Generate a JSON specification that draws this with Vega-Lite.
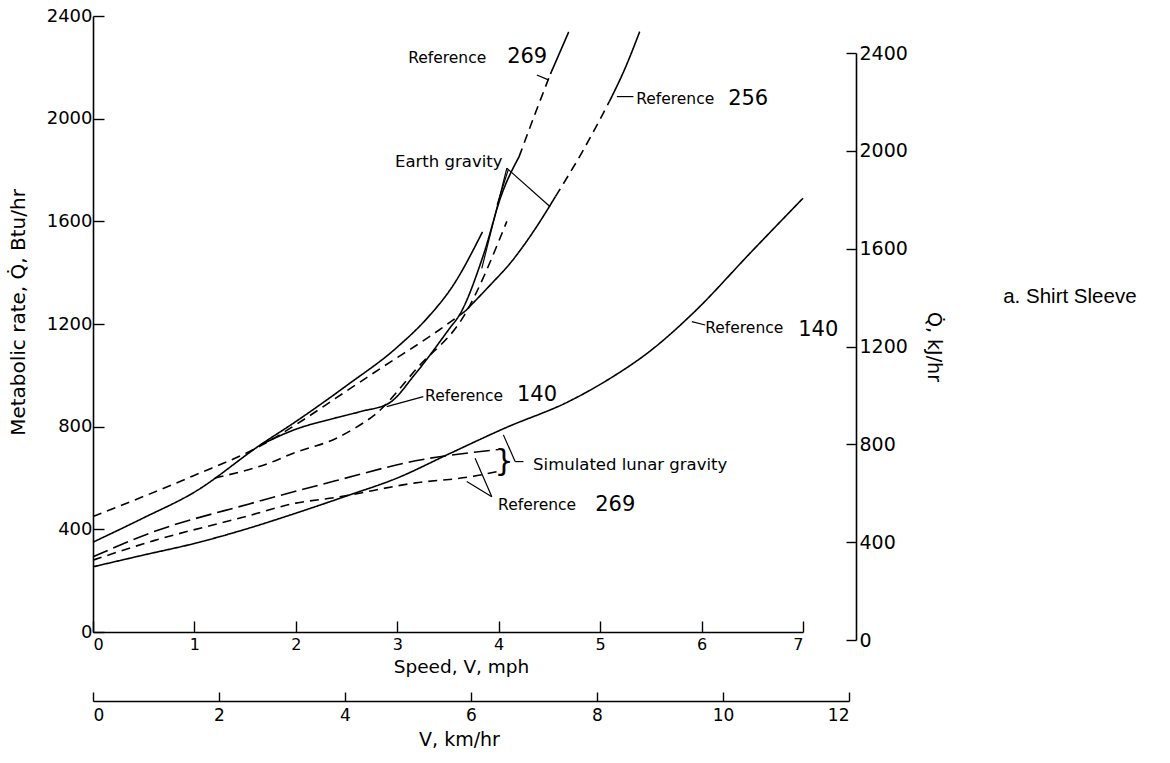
{
  "$schema": "https://vega.github.io/schema/vega-lite/v6.json",
  "width": 710,
  "height": 616,
  "autosize": "none",
  "padding": {"left": 93, "top": 16, "right": 367, "bottom": 131},
  "background": "white",
  "config": {
    "view": {"stroke": null},
    "font": "DejaVu Sans",
    "axis": {
      "grid": false,
      "domainColor": "black",
      "domainWidth": 1.6,
      "tickColor": "black",
      "tickWidth": 1.4,
      "labelColor": "black",
      "titleColor": "black",
      "titleFontWeight": "normal",
      "labelFont": "DejaVu Sans",
      "titleFont": "DejaVu Sans",
      "format": "d"
    }
  },
  "datasets": {
    "curves": [
      {"s": "r140lunar", "st": "solid", "mph": 0, "btu": 254},
      {"s": "r140lunar", "st": "solid", "mph": 0.5, "btu": 300},
      {"s": "r140lunar", "st": "solid", "mph": 1, "btu": 345},
      {"s": "r140lunar", "st": "solid", "mph": 1.5, "btu": 400},
      {"s": "r140lunar", "st": "solid", "mph": 2, "btu": 463},
      {"s": "r140lunar", "st": "solid", "mph": 2.5, "btu": 530},
      {"s": "r140lunar", "st": "solid", "mph": 3, "btu": 600},
      {"s": "r140lunar", "st": "solid", "mph": 3.51, "btu": 694},
      {"s": "r140lunar", "st": "solid", "mph": 4.07, "btu": 796},
      {"s": "r140lunar", "st": "solid", "mph": 4.69, "btu": 898},
      {"s": "r140lunar", "st": "solid", "mph": 5.09, "btu": 986},
      {"s": "r140lunar", "st": "solid", "mph": 5.51, "btu": 1100},
      {"s": "r140lunar", "st": "solid", "mph": 5.91, "btu": 1240},
      {"s": "r140lunar", "st": "solid", "mph": 6.5, "btu": 1485},
      {"s": "r140lunar", "st": "solid", "mph": 7.0, "btu": 1690},
      {"s": "r269lunarA", "st": "longdash", "mph": 0, "btu": 293},
      {"s": "r269lunarA", "st": "longdash", "mph": 0.58, "btu": 388},
      {"s": "r269lunarA", "st": "longdash", "mph": 1.54, "btu": 499},
      {"s": "r269lunarA", "st": "longdash", "mph": 2.39, "btu": 589},
      {"s": "r269lunarA", "st": "longdash", "mph": 3.18, "btu": 667},
      {"s": "r269lunarA", "st": "longdash", "mph": 4.0, "btu": 711},
      {"s": "r269lunarB", "st": "dash", "mph": 0, "btu": 280},
      {"s": "r269lunarB", "st": "dash", "mph": 0.6, "btu": 356},
      {"s": "r269lunarB", "st": "dash", "mph": 1.47, "btu": 446},
      {"s": "r269lunarB", "st": "dash", "mph": 2.0, "btu": 502},
      {"s": "r269lunarB", "st": "dash", "mph": 2.39, "btu": 524},
      {"s": "r269lunarB", "st": "dash", "mph": 3.18, "btu": 581},
      {"s": "r269lunarB", "st": "dash", "mph": 3.71, "btu": 604},
      {"s": "r269lunarB", "st": "dash", "mph": 4.02, "btu": 628},
      {"s": "r256earth_low", "st": "dash", "mph": 0, "btu": 450},
      {"s": "r256earth_low", "st": "dash", "mph": 0.98, "btu": 607},
      {"s": "r256earth_low", "st": "dash", "mph": 1.67, "btu": 729},
      {"s": "r256earth_low", "st": "dash", "mph": 2.06, "btu": 823},
      {"s": "r256earth_low", "st": "dash", "mph": 2.39, "btu": 910},
      {"s": "r256earth_low", "st": "dash", "mph": 2.85, "btu": 1031},
      {"s": "r256earth_low", "st": "dash", "mph": 3.37, "btu": 1165},
      {"s": "r256earth_low", "st": "dash", "mph": 3.67, "btu": 1250},
      {"s": "r256earth_mid", "st": "solid", "mph": 3.67, "btu": 1250},
      {"s": "r256earth_mid", "st": "solid", "mph": 3.9, "btu": 1345},
      {"s": "r256earth_mid", "st": "solid", "mph": 4.13, "btu": 1445},
      {"s": "r256earth_mid", "st": "solid", "mph": 4.35, "btu": 1565},
      {"s": "r256earth_mid", "st": "solid", "mph": 4.56, "btu": 1697},
      {"s": "r256earth_up", "st": "dash", "mph": 4.56, "btu": 1697},
      {"s": "r256earth_up", "st": "dash", "mph": 4.82, "btu": 1868},
      {"s": "r256earth_up", "st": "dash", "mph": 5.09, "btu": 2066},
      {"s": "r256earth_top", "st": "solid", "mph": 5.09, "btu": 2066},
      {"s": "r256earth_top", "st": "solid", "mph": 5.25, "btu": 2200},
      {"s": "r256earth_top", "st": "solid", "mph": 5.39, "btu": 2339},
      {"s": "upper_solid", "st": "solid", "mph": 0, "btu": 350},
      {"s": "upper_solid", "st": "solid", "mph": 0.5, "btu": 445},
      {"s": "upper_solid", "st": "solid", "mph": 1, "btu": 545},
      {"s": "upper_solid", "st": "solid", "mph": 1.65, "btu": 729},
      {"s": "upper_solid", "st": "solid", "mph": 2.0, "btu": 820},
      {"s": "upper_solid", "st": "solid", "mph": 2.5, "btu": 960},
      {"s": "upper_solid", "st": "solid", "mph": 3.0, "btu": 1110},
      {"s": "upper_solid", "st": "solid", "mph": 3.3, "btu": 1225},
      {"s": "upper_solid", "st": "solid", "mph": 3.55, "btu": 1350},
      {"s": "upper_solid", "st": "solid", "mph": 3.84, "btu": 1559},
      {"s": "r140earth_low", "st": "solid", "mph": 1.65, "btu": 729},
      {"s": "r140earth_low", "st": "solid", "mph": 2.0, "btu": 790},
      {"s": "r140earth_low", "st": "solid", "mph": 2.36, "btu": 831},
      {"s": "r140earth_low", "st": "solid", "mph": 2.65, "btu": 860},
      {"s": "r140earth_low", "st": "solid", "mph": 2.92, "btu": 892},
      {"s": "r140earth_low", "st": "solid", "mph": 3.18, "btu": 1007},
      {"s": "r140earth_low", "st": "solid", "mph": 3.51, "btu": 1180},
      {"s": "r140earth_low", "st": "solid", "mph": 3.62, "btu": 1240},
      {"s": "r140earth_low", "st": "solid", "mph": 3.85, "btu": 1470},
      {"s": "r140earth_low", "st": "solid", "mph": 4.03, "btu": 1706},
      {"s": "r140earth_low", "st": "solid", "mph": 4.2, "btu": 1851},
      {"s": "r140earth_mid", "st": "dash", "mph": 4.2, "btu": 1851},
      {"s": "r140earth_mid", "st": "dash", "mph": 4.35, "btu": 2010},
      {"s": "r140earth_mid", "st": "dash", "mph": 4.51, "btu": 2174},
      {"s": "r140earth_top", "st": "solid", "mph": 4.51, "btu": 2174},
      {"s": "r140earth_top", "st": "solid", "mph": 4.69, "btu": 2338},
      {"s": "r269earth", "st": "dash", "mph": 1.2, "btu": 600},
      {"s": "r269earth", "st": "dash", "mph": 1.73, "btu": 657},
      {"s": "r269earth", "st": "dash", "mph": 1.99, "btu": 699},
      {"s": "r269earth", "st": "dash", "mph": 2.39, "btu": 753},
      {"s": "r269earth", "st": "dash", "mph": 2.58, "btu": 794},
      {"s": "r269earth", "st": "dash", "mph": 2.78, "btu": 847},
      {"s": "r269earth", "st": "dash", "mph": 3.2, "btu": 1030},
      {"s": "r269earth", "st": "dash", "mph": 3.67, "btu": 1240},
      {"s": "r269earth", "st": "dash", "mph": 4.08, "btu": 1600}
    ],
    "words": [
      {"mph": 3.107, "btu": 2236, "t": "Reference"},
      {"mph": 5.355, "btu": 2077, "t": "Reference"},
      {"mph": 3.274, "btu": 919, "t": "Reference"},
      {"mph": 6.036, "btu": 1184, "t": "Reference"},
      {"mph": 3.994, "btu": 495, "t": "Reference"}
    ],
    "phrases": [
      {"mph": 2.978, "btu": 1831, "t": "Earth gravity"},
      {"mph": 4.339, "btu": 651, "t": "Simulated lunar gravity"}
    ],
    "nums": [
      {"mph": 4.083, "btu": 2240, "t": "269"},
      {"mph": 6.262, "btu": 2077, "t": "256"},
      {"mph": 4.18, "btu": 923, "t": "140"},
      {"mph": 6.953, "btu": 1177, "t": "140"},
      {"mph": 4.951, "btu": 495, "t": "269"}
    ],
    "braces": [
      {"mph": 4.053, "btu": 662, "t": "}"}
    ],
    "side": [
      {"mph": 8.974, "btu": 1305, "t": "a.  Shirt  Sleeve"}
    ],
    "leaders": [
      {"x1": 4.376, "y1": 2170, "x2": 4.490, "y2": 2151},
      {"x1": 5.165, "y1": 2086, "x2": 5.328, "y2": 2086},
      {"x1": 4.080, "y1": 1807, "x2": 4.507, "y2": 1657},
      {"x1": 4.080, "y1": 1807, "x2": 3.833, "y2": 1417},
      {"x1": 4.093, "y1": 1800, "x2": 3.984, "y2": 1664},
      {"x1": 3.257, "y1": 917, "x2": 2.896, "y2": 878},
      {"x1": 5.904, "y1": 1209, "x2": 6.036, "y2": 1196},
      {"x1": 4.046, "y1": 768, "x2": 4.162, "y2": 664},
      {"x1": 4.162, "y1": 664, "x2": 4.244, "y2": 664},
      {"x1": 3.932, "y1": 527, "x2": 3.767, "y2": 677},
      {"x1": 3.932, "y1": 527, "x2": 3.685, "y2": 586}
    ],
    "km": [{"km": 0}, {"km": 12}],
    "kj": [{"kj": 0}, {"kj": 2400}]
  },
  "layer": [
    {
      "layer": [
        {
          "data": {"name": "curves"},
          "mark": {"type": "line", "interpolate": "monotone", "strokeWidth": 1.6, "color": "black", "clip": false},
          "encoding": {
            "x": {
              "field": "mph", "type": "quantitative",
              "scale": {"domain": [0, 7], "nice": false, "zero": false},
              "axis": {
                "values": [0, 1, 2, 3, 4, 5, 6, 7],
                "tickSize": -11,
                "labelPadding": 15,
                "labelFontSize": 16,
                "title": "Speed,  V,  mph",
                "titleFontSize": 18.5,
                "titlePadding": 5,
                "titleX": 368
              }
            },
            "y": {
              "field": "btu", "type": "quantitative",
              "scale": {"domain": [0, 2400], "nice": false},
              "axis": {
                "values": [0, 400, 800, 1200, 1600, 2000, 2400],
                "tickSize": -11,
                "labelPadding": 12,
                "labelFontSize": 18,
                "title": "Metabolic  rate,  Q̇,  Btu/hr",
                "titleFontSize": 20,
                "titlePadding": 18,
                "titleY": 296
              }
            },
            "detail": {"field": "s"},
            "strokeDash": {
              "field": "st", "type": "nominal",
              "scale": {"domain": ["solid", "dash", "longdash"], "range": [[1, 0], [9, 6], [16, 6]]},
              "legend": null
            }
          }
        },
        {
          "data": {"name": "leaders"},
          "mark": {"type": "rule", "strokeWidth": 1.2, "color": "black", "clip": false},
          "encoding": {
            "x": {"field": "x1", "type": "quantitative"},
            "y": {"field": "y1", "type": "quantitative"},
            "x2": {"field": "x2"},
            "y2": {"field": "y2"}
          }
        },
        {
          "data": {"name": "words"},
          "mark": {"type": "text", "align": "left", "baseline": "middle", "fontSize": 15.5, "font": "DejaVu Sans", "color": "black"},
          "encoding": {
            "x": {"field": "mph", "type": "quantitative"},
            "y": {"field": "btu", "type": "quantitative"},
            "text": {"field": "t"}
          }
        },
        {
          "data": {"name": "phrases"},
          "mark": {"type": "text", "align": "left", "baseline": "middle", "fontSize": 16.5, "font": "DejaVu Sans", "color": "black"},
          "encoding": {
            "x": {"field": "mph", "type": "quantitative"},
            "y": {"field": "btu", "type": "quantitative"},
            "text": {"field": "t"}
          }
        },
        {
          "data": {"name": "nums"},
          "mark": {"type": "text", "align": "left", "baseline": "middle", "fontSize": 21, "font": "DejaVu Sans", "color": "black"},
          "encoding": {
            "x": {"field": "mph", "type": "quantitative"},
            "y": {"field": "btu", "type": "quantitative"},
            "text": {"field": "t"}
          }
        },
        {
          "data": {"name": "braces"},
          "mark": {"type": "text", "align": "center", "baseline": "middle", "fontSize": 30, "font": "DejaVu Sans", "color": "black"},
          "encoding": {
            "x": {"field": "mph", "type": "quantitative"},
            "y": {"field": "btu", "type": "quantitative"},
            "text": {"field": "t"}
          }
        },
        {
          "data": {"name": "side"},
          "mark": {"type": "text", "align": "left", "baseline": "middle", "fontSize": 20.5, "font": "Liberation Sans", "color": "black"},
          "encoding": {
            "x": {"field": "mph", "type": "quantitative"},
            "y": {"field": "btu", "type": "quantitative"},
            "text": {"field": "t"}
          }
        }
      ]
    },
    {
      "data": {"name": "km"},
      "mark": {"type": "point", "opacity": 0},
      "encoding": {
        "x": {
          "field": "km", "type": "quantitative",
          "scale": {"domain": [0, 12], "range": [0, 756], "nice": false, "zero": false},
          "axis": {
            "orient": "bottom",
            "offset": 69,
            "values": [0, 2, 4, 6, 8, 10, 12],
            "tickSize": -9,
            "labelPadding": 15,
            "labelFontSize": 17,
            "title": "V,  km/hr",
            "titleFontSize": 19,
            "titlePadding": 7,
            "titleX": 366
          }
        }
      }
    },
    {
      "data": {"name": "kj"},
      "mark": {"type": "point", "opacity": 0},
      "encoding": {
        "y": {
          "field": "kj", "type": "quantitative",
          "scale": {"domain": [0, 2400], "range": [624, 37], "nice": false},
          "axis": {
            "orient": "right",
            "offset": 53,
            "values": [0, 400, 800, 1200, 1600, 2000, 2400],
            "tickSize": -10,
            "labelPadding": 13,
            "labelFontSize": 19,
            "title": "Q̇,  kJ/hr",
            "titleFontSize": 19,
            "titlePadding": 16
          }
        }
      }
    }
  ],
  "resolve": {"scale": {"x": "independent", "y": "independent"}}
}
